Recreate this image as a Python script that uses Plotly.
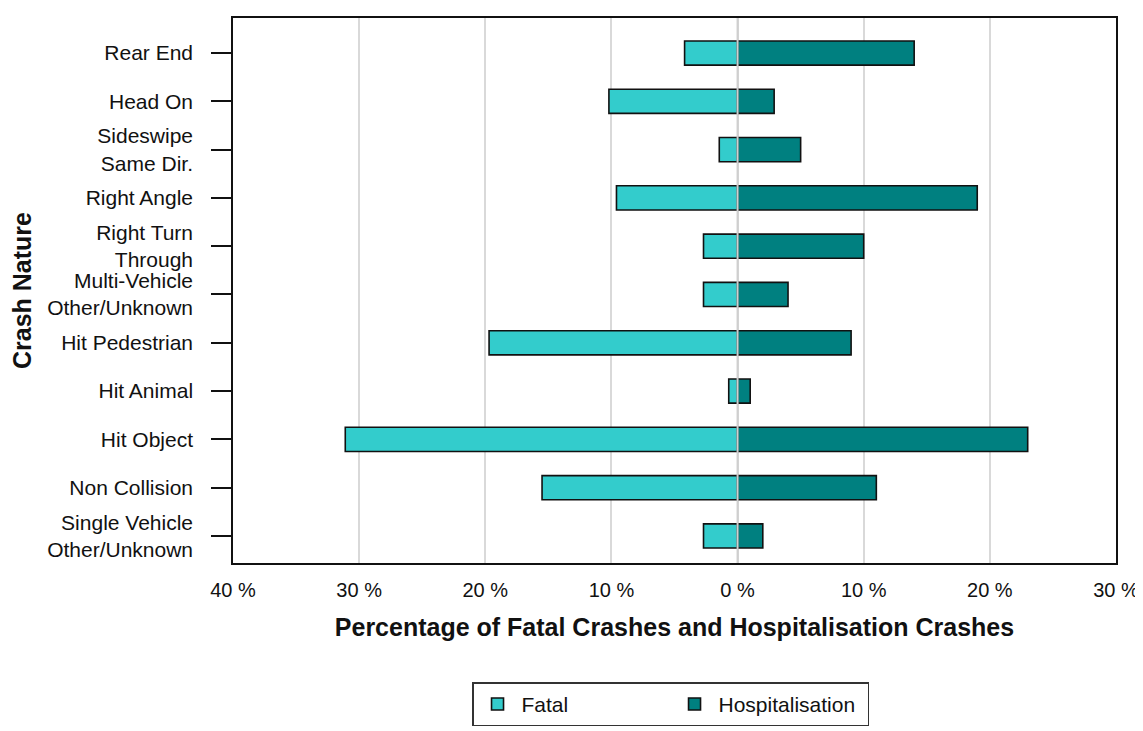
import plotly.graph_objects as go

categories = ["Rear End", "Head On", "Sideswipe<br>Same Dir.", "Right Angle", "Right Turn<br>Through",
              "Multi-Vehicle<br>Other/Unknown", "Hit Pedestrian", "Hit Animal", "Hit Object",
              "Non Collision", "Single Vehicle<br>Other/Unknown"]
fatal = [4.2, 10.2, 1.45, 9.6, 2.7, 2.7, 19.7, 0.7, 31.1, 15.5, 2.7]
hospitalisation = [14.0, 2.9, 5.0, 19.0, 10.0, 4.0, 9.0, 1.0, 23.0, 11.0, 2.0]
tick_vals = [-40, -30, -20, -10, 0, 10, 20, 30]
tick_text = ["40 %", "30 %", "20 %", "10 %", "0 %", "10 %", "20 %", "30 %"]

FONT = "Liberation Sans, Arial, sans-serif"

fig = go.Figure()
fig.add_trace(go.Bar(y=categories, x=[-v for v in fatal], orientation="h", name="Fatal",
                     marker=dict(color="#33CCCC", line=dict(color="#111111", width=1.6)),
                     width=0.5))
fig.add_trace(go.Bar(y=categories, x=hospitalisation, orientation="h", name="Hospitalisation",
                     marker=dict(color="#008080", line=dict(color="#111111", width=1.6)),
                     width=0.5))

# zero reference line drawn above the bars
fig.add_vline(x=0, line=dict(color="#cfcfcf", width=2), layer="above")

fig.update_layout(
    width=1143, height=731,
    barmode="relative",
    plot_bgcolor="white", paper_bgcolor="white",
    margin=dict(l=225, r=35, t=10, b=176, autoexpand=False),
    font=dict(family=FONT, size=20, color="#111111"),
    showlegend=True,
    legend=dict(orientation="h", x=0.2707, xanchor="left", y=-0.219, yanchor="top",
                bordercolor="#333333", borderwidth=1.5, font=dict(size=21),
                entrywidth=144, entrywidthmode="pixels", itemwidth=38),
)
fig.update_xaxes(range=[-40, 30], tickvals=tick_vals, ticktext=tick_text,
                 showgrid=True, gridcolor="#d9d9d9", gridwidth=2,
                 zeroline=False,
                 showline=True, linecolor="#111111", linewidth=1.5, mirror=True,
                 ticks="", ticklabelstandoff=8, tickfont=dict(size=20),
                 title=dict(text="<b>Percentage of Fatal Crashes and Hospitalisation Crashes</b>",
                            font=dict(size=25), standoff=19))
fig.update_yaxes(range=[10.56, -0.725], categoryorder="array", categoryarray=categories,
                 showline=True, linecolor="#111111", linewidth=1.5, mirror=True,
                 ticks="outside", ticklen=20, tickcolor="#111111", tickwidth=1.5,
                 ticklabelstandoff=14, showgrid=False, tickfont=dict(size=21),
                 title=dict(text="<b>Crash Nature</b>", font=dict(size=25), standoff=9))

fig.write_html("out.html")
